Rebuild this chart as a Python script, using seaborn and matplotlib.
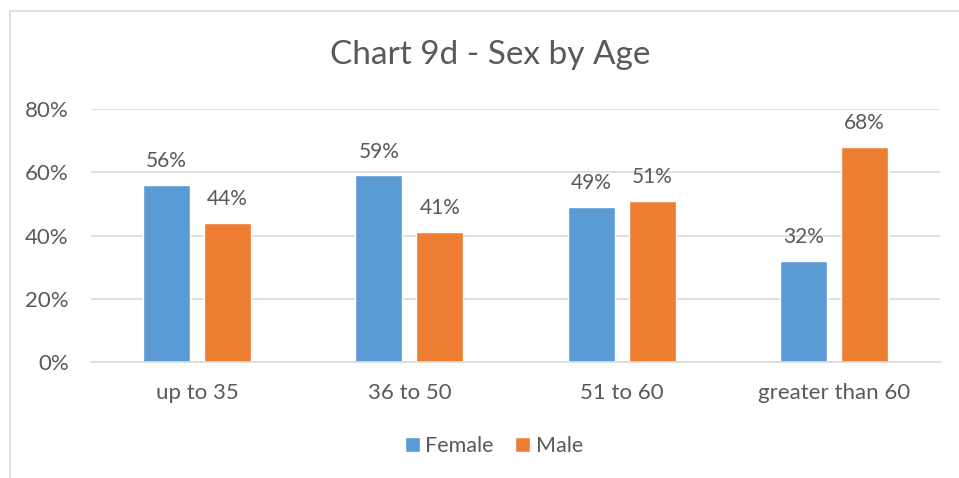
import pandas as pd
import matplotlib.pyplot as plt
import seaborn as sns
from matplotlib.ticker import PercentFormatter
from matplotlib.lines import Line2D

# Datos del gráfico
age_groups = ['up to 35', '36 to 50', '51 to 60', 'greater than 60']
female = [0.56, 0.59, 0.49, 0.32]
male = [0.44, 0.41, 0.51, 0.68]

df = pd.DataFrame({
    'age': age_groups * 2,
    'sex': ['Female'] * 4 + ['Male'] * 4,
    'share': female + male,
})

sns.set_style('white')
plt.rcParams['font.family'] = ['Lato', 'DejaVu Sans']
text_color = '#595959'

fig = plt.figure(figsize=(9.59, 4.78), dpi=100)
ax = fig.add_axes([91 / 959, 1 - 362 / 478, 849 / 959, 253 / 478])

sns.barplot(data=df, x='age', y='share', hue='sex', order=age_groups,
            palette={'Female': '#5B9BD5', 'Male': '#ED7D31'},
            width=0.575, gap=0.23, ax=ax, errorbar=None, saturation=1)

for c in ax.containers:
    ax.bar_label(c, labels=[f'{v * 100:.0f}%' for v in c.datavalues],
                 padding=10, fontsize=15, color=text_color)

ax.set_ylim(0, 0.8)
ax.set_yticks([0, 0.2, 0.4, 0.6, 0.8])
ax.yaxis.set_major_formatter(PercentFormatter(1, decimals=0))
ax.set_xlim(-0.5, 3.5)
ax.grid(axis='y', color='#D9D9D9', linewidth=1.2)
ax.set_axisbelow(True)
for s in ['top', 'right', 'left']:
    ax.spines[s].set_visible(False)
ax.spines['bottom'].set_color('#D9D9D9')
ax.spines['bottom'].set_linewidth(1.2)
ax.tick_params(axis='y', length=0, pad=16, labelsize=16, labelcolor=text_color)
ax.tick_params(axis='x', length=0, pad=15, labelsize=16, labelcolor=text_color)
ax.set_xlabel('')
ax.set_ylabel('')

fig.text(490 / 959, 1 - 55 / 478, 'Chart 9d - Sex by Age', ha='center', va='center',
         fontsize=24, color=text_color)

ax.legend(loc='center', bbox_to_anchor=(494 / 959, 1 - 446 / 478), bbox_transform=fig.transFigure,
          ncol=2, frameon=False, fontsize=15.5, labelcolor=text_color,
          handlelength=0.7, handleheight=0.7, handletextpad=0.25, columnspacing=1.0)

# Borde del área del gráfico
fig.add_artist(Line2D([9.5 / 959, 9.5 / 959], [1 - 10.5 / 478, 0], transform=fig.transFigure,
                      color='#D9D9D9', linewidth=1.2))
fig.add_artist(Line2D([9.5 / 959, 1], [1 - 10.5 / 478, 1 - 10.5 / 478], transform=fig.transFigure,
                      color='#D9D9D9', linewidth=1.2))

plt.savefig('out.png', dpi=100)
plt.close()
